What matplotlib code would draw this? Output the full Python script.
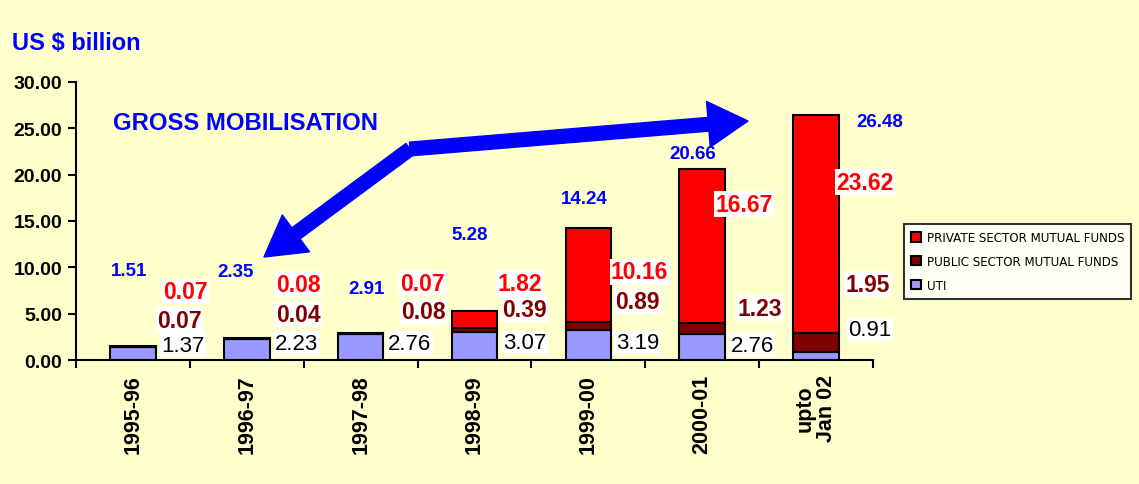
import numpy as np
import matplotlib
matplotlib.use('Agg')
import matplotlib.pyplot as plt
from matplotlib.patches import FancyArrowPatch

plt.rcParams['font.family'] = ['Liberation Sans', 'DejaVu Sans']

years = ['1995-96', '1996-97', '1997-98', '1998-99', '1999-00', '2000-01', 'upto\nJan 02']
uti = [1.37, 2.23, 2.76, 3.07, 3.19, 2.76, 0.91]
public = [0.07, 0.04, 0.08, 0.39, 0.89, 1.23, 1.95]
private = [0.07, 0.08, 0.07, 1.82, 10.16, 16.67, 23.62]
totals = [1.51, 2.35, 2.91, 5.28, 14.24, 20.66, 26.48]

# label placement (x offset from bar centre, y in data units)
tot_pos = [(-0.03, 9.7), (-0.10, 9.5), (0.05, 7.7), (-0.04, 13.5), (-0.04, 17.4), (-0.08, 22.3), (0.56, 25.7)]
priv_pos = [(0.46, 7.4), (0.45, 8.2), (0.54, 8.3), (0.40, 8.3), (0.45, 9.5), (0.37, 16.8), (0.43, 19.2)]
pub_pos = [(0.41, 4.3), (0.45, 4.9), (0.55, 5.2), (0.44, 5.5), (0.43, 6.3), (0.51, 5.6), (0.45, 8.2)]
uti_pos = [(0.44, 1.6), (0.44, 1.8), (0.43, 1.8), (0.44, 1.9), (0.43, 1.9), (0.44, 1.6), (0.47, 3.3)]

bg = '#FFFFCC'
c_uti = '#9999FF'
c_pub = '#800000'
c_priv = '#FF0000'

fig = plt.figure(figsize=(11.39, 4.85), dpi=100, facecolor=bg)
ax = fig.add_axes([76 / 1139, 1 - 361 / 485, 797 / 1139, 278 / 485])
ax.set_facecolor(bg)

x = np.arange(len(years))
w = 0.4
uti = np.array(uti)
public = np.array(public)
private = np.array(private)
ax.bar(x, uti, w, color=c_uti, edgecolor='black', linewidth=1.5, label='UTI', zorder=2)
ax.bar(x, public, w, bottom=uti, color=c_pub, edgecolor='black', linewidth=1.5,
       label='PUBLIC SECTOR MUTUAL FUNDS', zorder=2)
ax.bar(x, private, w, bottom=uti + public, color=c_priv, edgecolor='black', linewidth=1.5,
       label='PRIVATE SECTOR MUTUAL FUNDS', zorder=2)

ax.set_xlim(-0.5, len(years) - 0.5)
ax.set_ylim(0, 30)
ax.set_yticks(np.arange(0, 31, 5))
ax.set_yticklabels(['%.2f' % v for v in np.arange(0, 31, 5)], fontsize=14, fontweight='bold')
ax.set_xticks(x)
ax.set_xticklabels(years, rotation=90, fontsize=15.5, fontweight='bold', va='top', linespacing=1.0)
ax.set_xticks(np.arange(-0.5, len(years)), minor=True)
ax.tick_params(axis='x', which='major', length=0, pad=10)
ax.tick_params(axis='x', which='minor', length=6, width=1.5, direction='out')
ax.tick_params(axis='y', length=6, width=1.5, direction='out', pad=4)
for s in ['top', 'right']:
    ax.spines[s].set_visible(False)
for s in ['left', 'bottom']:
    ax.spines[s].set_linewidth(1.5)

wbox = dict(facecolor='white', edgecolor='none', pad=1)
for i in range(len(years)):
    ax.text(i + tot_pos[i][0], tot_pos[i][1], '%.2f' % totals[i], color='#0000FF',
            fontsize=13.5, fontweight='bold', ha='center', va='center')
    ax.text(i + priv_pos[i][0], priv_pos[i][1], '%.2f' % private[i], color=c_priv,
            fontsize=16.5, fontweight='bold', ha='center', va='center', bbox=wbox)
    ax.text(i + pub_pos[i][0], pub_pos[i][1], '%.2f' % public[i], color=c_pub,
            fontsize=16.5, fontweight='bold', ha='center', va='center', bbox=wbox)
    ax.text(i + uti_pos[i][0], uti_pos[i][1], '%.2f' % uti[i], color='black',
            fontsize=16, ha='center', va='center', bbox=wbox)

fig.text(12 / 1139, 1 - 44 / 485, 'US $ billion', color='#0000FF', fontsize=17,
         fontweight='bold', ha='left', va='center')
fig.text(113 / 1139, 1 - 124 / 485, 'GROSS MOBILISATION', color='#0000FF', fontsize=17.2,
         fontweight='bold', ha='left', va='center')

# the two thick arrows
for tip in [(264, 485 - 258), (748, 485 - 122)]:
    arr = FancyArrowPatch((410, 485 - 150), tip, transform=None,
                          arrowstyle='simple,head_length=1.3,head_width=1.5,tail_width=0.45',
                          mutation_scale=22, color='#0000FF', shrinkA=0, shrinkB=0)
    fig.patches.append(arr)

h, l = ax.get_legend_handles_labels()
leg = fig.legend(h[::-1], l[::-1], loc='upper left', bbox_to_anchor=(904 / 1139, 1 - 225 / 485),
                 frameon=True, fancybox=False, handlelength=0.8, handleheight=0.8,
                 handletextpad=0.5, labelspacing=0.9, borderpad=0.6, borderaxespad=0,
                 prop={'family': 'DejaVu Sans', 'size': 8.6})
leg.get_frame().set_edgecolor('black')
leg.get_frame().set_linewidth(1.5)
leg.get_frame().set_facecolor('white')

fig.savefig('out.png', dpi=100, facecolor=bg)
